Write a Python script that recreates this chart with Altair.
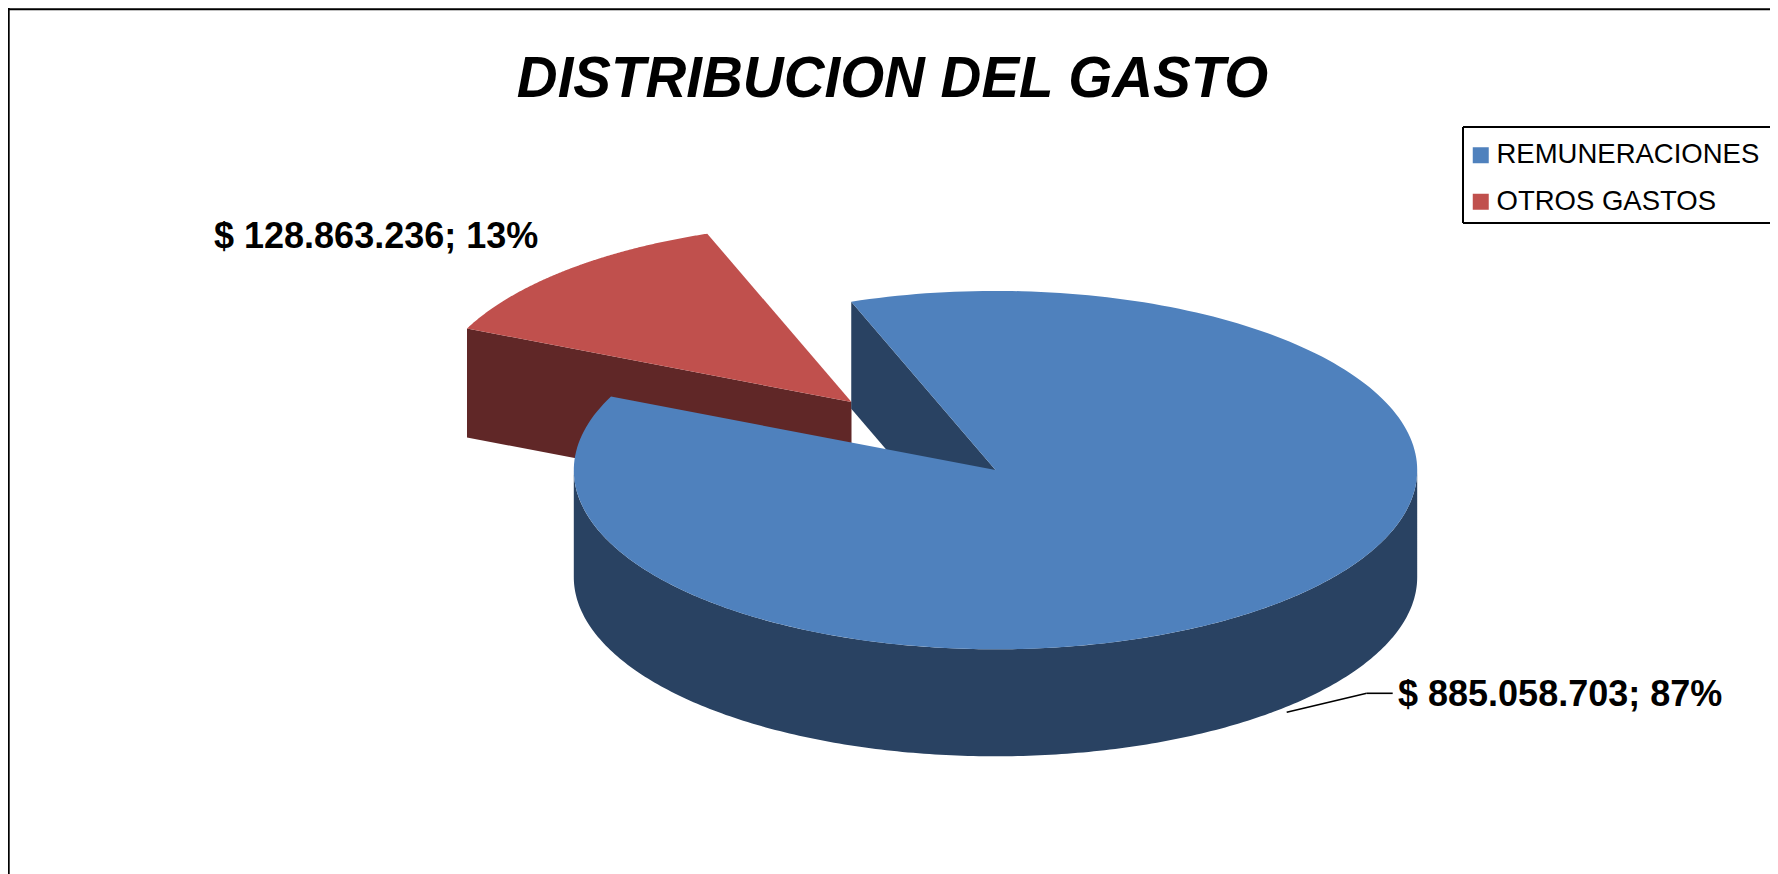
import math
import altair as alt
import pandas as pd

CATEGORIES = ["REMUNERACIONES", "OTROS GASTOS"]
AMOUNTS = [885058703, 128863236]
TOP_COLORS = ["#4F81BD", "#C0504D"]
SIDE_COLORS = ["#294262", "#602727"]
TITLE = "DISTRIBUCION DEL GASTO"

W, H = 1762, 866
OX, OY = 8, 8  # page margin
CX, CY, RX, RY = 995.5 - OX, 470.1 - OY, 421.7, 179.2
DEPTH = 107
START = 110.0
EXPLODE = (-144, -68)

total = sum(AMOUNTS)
share_other = AMOUNTS[1] / total
SPAN = 360 * share_other


def pt(t, dx=0, dy=0):
    r = math.radians(t)
    return [CX + dx + RX * math.cos(r), CY + dy - RY * math.sin(r)]


def arc(a, b, dx=0, dy=0, n=240):
    return [pt(a + (b - a) * i / n, dx, dy) for i in range(n + 1)]


def feature(series, ring, part):
    return {
        "type": "Feature",
        "properties": {"series": series, "part": part},
        "geometry": {"type": "Polygon", "coordinates": [ring + [ring[0]]]},
    }


ex, ey = EXPLODE
a0, a1 = START, START + SPAN
blue_v = [CX, CY]
red_v = [CX + ex, CY + ey]

# Side faces
red_side = [pt(a1, ex, ey), red_v, [red_v[0], red_v[1] + DEPTH + 2], pt(a1, ex, ey + DEPTH + 2)]
blue_inner = [pt(a0), blue_v, [CX, CY + DEPTH], pt(a0, 0, DEPTH)]
blue_outer = arc(180, 360) + arc(360, 180, 0, DEPTH)
sides = [
    feature(CATEGORIES[1], red_side, "side"),
    feature(CATEGORIES[0], blue_inner, "side"),
    feature(CATEGORIES[0], blue_outer, "side"),
]
# Top faces
tops = [
    feature(CATEGORIES[1], [red_v] + arc(a0, a1, ex, ey), "top"),
    feature(CATEGORIES[0], [blue_v] + arc(a1, a0 + 360), "top"),
]

proj = alt.Projection(type="identity", scale=1, translate=[0, 0])


def geo(features):
    return alt.InlineData(values={"type": "FeatureCollection", "features": features},
                          format=alt.DataFormat(property="features", type="json"))


red_side_layer = alt.Chart(geo(sides[:1])).mark_geoshape(fill=SIDE_COLORS[1], strokeWidth=0, stroke=None).project(**proj.to_dict())
red_top_layer = alt.Chart(geo(tops[:1])).mark_geoshape(strokeWidth=0).encode(
    fill=alt.Fill("properties.series:N", scale=alt.Scale(domain=CATEGORIES, range=TOP_COLORS),
                  legend=alt.Legend(orient="none", legendX=1467 - OX, legendY=141.5 - OY, title=None,
                                    padding=0,
                                    symbolType="square", symbolSize=256, symbolStrokeWidth=0,
                                    labelFont="Liberation Sans", labelFontSize=27.5, labelColor="black",
                                    labelOffset=2, rowPadding=17.5, labelLimit=400))
).project(**proj.to_dict())
blue_side_layer = alt.Chart(geo(sides[1:])).mark_geoshape(fill=SIDE_COLORS[0], strokeWidth=0, stroke=None).project(**proj.to_dict())
blue_top_layer = alt.Chart(geo(tops[1:])).mark_geoshape(strokeWidth=0).encode(
    fill=alt.Fill("properties.series:N", scale=alt.Scale(domain=CATEGORIES, range=TOP_COLORS))
).project(**proj.to_dict())


def fmt(v):
    return f"$ {v:,}".replace(",", ".") + f"; {round(100 * v / total)}%"


labels = [fmt(v) for v in AMOUNTS]


def txt(s, x, y, **kw):
    return alt.Chart(pd.DataFrame({"t": [s]})).mark_text(font="Liberation Sans", color="black", **kw).encode(
        x=alt.value(x), y=alt.value(y), text="t:N")


def seg(x, x2, y, y2, w):
    return alt.Chart(pd.DataFrame({"a": [0]})).mark_rule(color="black", strokeWidth=w).encode(
        x=alt.value(x), x2=alt.value(x2), y=alt.value(y), y2=alt.value(y2))


chart = alt.layer(
    seg(0, W, 1.2, 1.2, 2),
    seg(0.7, 0.7, 0, H, 2),
    seg(1463 - OX, W, 127 - OY, 127 - OY, 2),
    seg(1463 - OX, W, 223 - OY, 223 - OY, 2),
    seg(1463 - OX, 1463 - OX, 127 - OY, 223 - OY, 2),
    red_side_layer, red_top_layer, blue_side_layer, blue_top_layer,
    txt(TITLE, 892.5 - OX, 97 - OY, fontSize=56.5, fontWeight="bold", fontStyle="italic", align="center", baseline="alphabetic"),
    txt(labels[1], 214 - OX, 248 - OY, fontSize=36, fontWeight="bold", align="left", baseline="alphabetic"),
    txt(labels[0], 1398 - OX, 706 - OY, fontSize=36, fontWeight="bold", align="left", baseline="alphabetic"),
    seg(1286.7 - OX, 1366.7 - OX, 712.3 - OY, 693.3 - OY, 1.6),
    seg(1366.7 - OX, 1392.7 - OX, 693.3 - OY, 693.3 - OY, 1.6),
).properties(width=W, height=H, padding=0, autosize=alt.AutoSizeParams(type="none"), background="white"
).configure_view(stroke=None)

chart.save("out.html", embed_options={"renderer": "svg", "actions": False})
